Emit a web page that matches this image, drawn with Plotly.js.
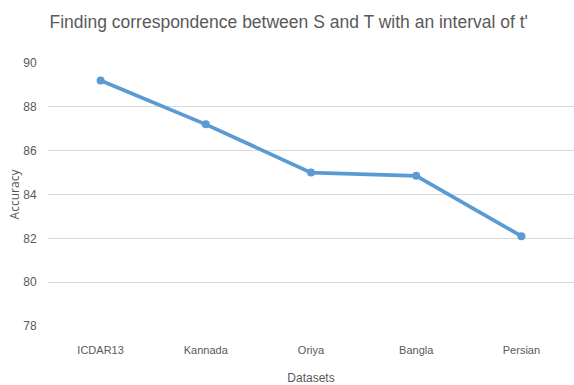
<!DOCTYPE html>
<html>
<head>
<meta charset="utf-8">
<script src="https://cdn.plot.ly/plotly-3.0.1.min.js"></script>
<style>html,body{margin:0;padding:0;background:#fff;}#chart{width:574px;height:385px;}</style>
</head>
<body>
<div id="chart"></div>
<script>
const categories = ["ICDAR13", "Kannada", "Oriya", "Bangla", "Persian"];
const accuracy = [89.2, 87.2, 85.0, 84.85, 82.1];
const yTicks = [78, 80, 82, 84, 86, 88, 90];

const font = "'Liberation Sans', Arial, sans-serif";
const gray = "#595959";

Plotly.newPlot("chart", [{
  x: categories,
  y: accuracy,
  type: "scatter",
  mode: "lines+markers",
  line: {color: "#5B9BD5", width: 3.75},
  marker: {color: "#5B9BD5", size: 8, symbol: "circle"},
  hoverinfo: "x+y"
}], {
  width: 574,
  height: 385,
  margin: {l: 48, r: 0, t: 63, b: 59},
  paper_bgcolor: "#fff",
  plot_bgcolor: "#fff",
  showlegend: false,
  title: {
    text: "Finding correspondence between S and T with an interval of t'",
    font: {family: font, size: 17.5, color: gray},
    x: 0.503, xanchor: "center", y: 0.943, yanchor: "middle"
  },
  xaxis: {
    type: "category",
    range: [-0.5, 4.5],
    showgrid: false,
    zeroline: false,
    showline: false,
    ticks: "outside", ticklen: 14, tickcolor: "rgba(0,0,0,0)",
    tickfont: {family: font, size: 11, color: gray},
    title: {text: "Datasets", font: {family: font, size: 12, color: gray}, standoff: 19}
  },
  yaxis: {
    range: [78, 90],
    tickvals: yTicks,
    ticktext: yTicks.map(String),
    showgrid: true,
    gridcolor: "#d9d9d9",
    gridwidth: 1,
    zeroline: false,
    showline: false,
    ticks: "outside", ticklen: 8, tickcolor: "rgba(0,0,0,0)",
    tickfont: {family: font, size: 12, color: gray},
    title: {text: "Accuracy", font: {family: "'Open Sans', sans-serif", size: 12, color: gray}, standoff: 1}
  }
}, {displayModeBar: false, staticPlot: true});
</script>
</body>
</html>
